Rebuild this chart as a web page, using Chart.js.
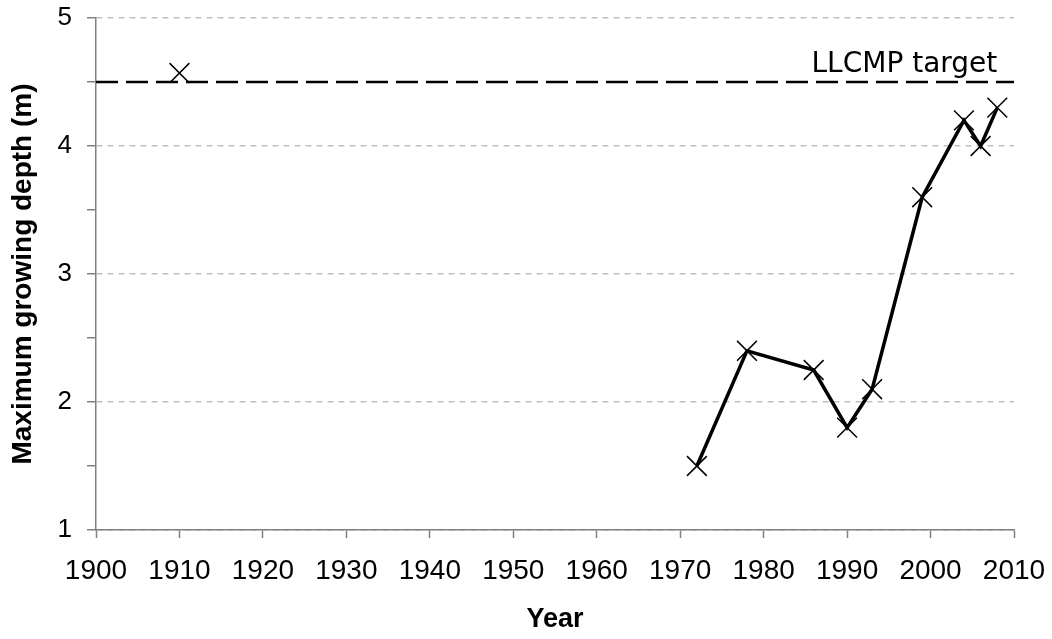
<!DOCTYPE html>
<html>
<head>
<meta charset="utf-8">
<script src="https://cdn.jsdelivr.net/npm/chart.js@4/dist/chart.umd.min.js"></script>
<style>
  html, body { margin: 0; padding: 0; background: #fff; }
  #wrap { width: 1052px; height: 639px; position: relative; }
</style>
</head>
<body>
<div id="wrap"><canvas id="depthChart"></canvas></div>
<script>
// Survey years and max growing depth (m)
const years = [1972, 1978, 1986, 1990, 1993, 1999, 2004, 2006, 2008];
const depths = [1.5, 2.4, 2.25, 1.8, 2.1, 3.6, 4.2, 4.0, 4.3];

// Early record, not joined to the later series
const historicYears = [1910];
const historicDepths = [4.57];

// LLCMP target depth
const targetDepth = 4.5;
const targetLabel = "LLCMP target";

const yearTicks = [1900, 1910, 1920, 1930, 1940, 1950, 1960, 1970, 1980, 1990, 2000, 2010];
const depthTicks = [1, 2, 3, 4, 5];

const toPoints = (xs, ys) => xs.map((x, i) => ({ x: x, y: ys[i] }));

// label above the dashed target line
const targetText = {
  id: "targetText",
  afterDatasetsDraw(chart) {
    const { ctx, scales } = chart;
    const y = scales.y.getPixelForValue(targetDepth);
    const x = scales.x.getPixelForValue(2008);
    ctx.save();
    ctx.font = "28px 'DejaVu Sans'";
    ctx.fillStyle = "#000";
    ctx.textAlign = "right";
    ctx.textBaseline = "alphabetic";
    ctx.fillText(targetLabel, x, y - 10);
    ctx.restore();
  }
};

const ctx = document.getElementById("depthChart").getContext("2d");
new Chart(ctx, {
  type: "line",
  data: {
    datasets: [
      {
        label: "Target",
        data: toPoints([yearTicks[0], yearTicks[yearTicks.length - 1]], [targetDepth, targetDepth]),
        borderColor: "#000",
        borderWidth: 2.5,
        borderDash: [22, 8],
        pointRadius: 0,
        fill: false
      },
      {
        label: "Historic",
        data: toPoints(historicYears, historicDepths),
        showLine: false,
        pointStyle: "crossRot",
        pointRadius: 14,
        pointBorderWidth: 1.5,
        pointBorderColor: "#000"
      },
      {
        label: "Max depth",
        data: toPoints(years, depths),
        borderColor: "#000",
        borderWidth: 3.5,
        tension: 0,
        fill: false,
        pointStyle: "crossRot",
        pointRadius: 14,
        pointBorderWidth: 1.5,
        pointBorderColor: "#000"
      }
    ]
  },
  options: {
    responsive: true,
    maintainAspectRatio: false,
    animation: false,
    layout: { padding: { top: 18, right: 38, left: 0, bottom: 0 } },
    plugins: {
      legend: { display: false },
      tooltip: { enabled: false }
    },
    scales: {
      x: {
        type: "linear",
        min: 1900,
        max: 2010,
        afterFit: s => {
          s.height = 109;
          s.paddingLeft = 0;
          s.paddingRight = 0;
        },
        ticks: {
          stepSize: 10,
          padding: 16,
          color: "#000",
          font: { family: "'Liberation Sans', Arial", size: 28 },
          callback: v => (yearTicks.includes(v) ? String(v) : "")
        },
        grid: {
          drawOnChartArea: false,
          drawTicks: true,
          tickLength: 8,
          tickColor: "#808080",
          tickWidth: 1.5
        },
        border: { color: "#808080", width: 1.5 },
        title: {
          display: true,
          text: "Year",
          color: "#000",
          font: { family: "'Liberation Sans', Arial", size: 27, weight: "bold" },
          padding: { top: 0, bottom: 3 }
        }
      },
      y: {
        min: 1,
        max: 5,
        afterFit: s => {
          s.width = 96;
          s.paddingTop = 0;
          s.paddingBottom = 0;
        },
        ticks: {
          stepSize: 0.5,
          padding: 15,
          color: "#000",
          font: { family: "'Liberation Sans', Arial", size: 26 },
          callback: v => (depthTicks.includes(v) ? String(v) : "")
        },
        grid: {
          color: c => (depthTicks.includes(c.tick.value) ? "#c0c0c0" : "rgba(0,0,0,0)"),
          lineWidth: 1.5,
          tickLength: 9,
          tickColor: "#808080",
          tickWidth: 1.5,
          tickBorderDash: []
        },
        border: { color: "#808080", width: 1.5, dash: [6, 5] },
        title: {
          display: true,
          text: "Maximum growing depth (m)",
          color: "#000",
          font: { family: "'Liberation Sans', Arial", size: 28, weight: "bold" },
          padding: { top: 6, bottom: 0 }
        }
      }
    }
  },
  plugins: [targetText]
});
</script>
</body>
</html>
